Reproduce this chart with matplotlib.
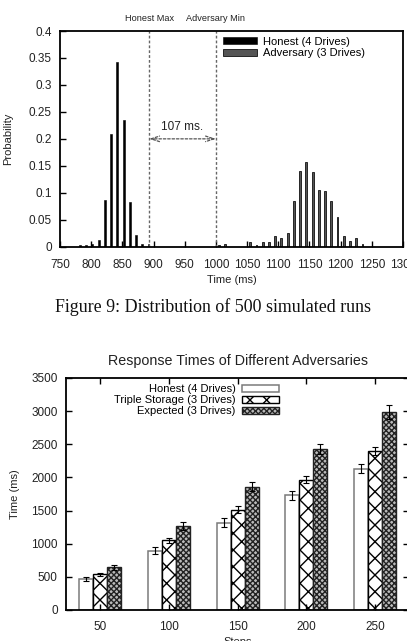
import numpy as np
import matplotlib
matplotlib.use("Agg")
import matplotlib.pyplot as plt

# --- top chart: distribution of 500 simulated runs ---
honest_x = [782, 792, 802, 812, 822, 832, 842, 852, 862, 872, 882, 892]
honest_p = [0.003, 0.003, 0.005, 0.013, 0.087, 0.209, 0.343, 0.235, 0.083, 0.021, 0.005, 0.005]
adv_x = [1005, 1015, 1055, 1065, 1075, 1085, 1095, 1105, 1115, 1125, 1135,
         1145, 1155, 1165, 1175, 1185, 1195, 1205, 1215, 1225, 1235]
adv_p = [0.003, 0.005, 0.009, 0.003, 0.009, 0.009, 0.019, 0.017, 0.025, 0.084, 0.141,
         0.157, 0.139, 0.105, 0.103, 0.085, 0.055, 0.020, 0.011, 0.017, 0.005]
honest_max = 893
adversary_min = 1000
x_ticks = [750, 800, 850, 900, 950, 1000, 1050, 1100, 1150, 1200, 1250, 1300]
p_ticks = [0, 0.05, 0.1, 0.15, 0.2, 0.25, 0.3, 0.35, 0.4]
p_labels = ["0", "0.05", "0.1", "0.15", "0.2", "0.25", "0.3", "0.35", "0.4"]

# --- bottom chart: response times ---
steps = ["50", "100", "150", "200", "250"]
honest_t = [465, 895, 1318, 1730, 2130]
honest_err = [35, 50, 65, 70, 70]
triple_t = [538, 1050, 1515, 1965, 2405]
triple_err = [25, 35, 55, 55, 60]
expected_t = [644, 1263, 1858, 2430, 2985]
expected_err = [40, 60, 70, 75, 105]

plt.rcParams["font.family"] = ["Liberation Sans", "DejaVu Sans"]
plt.rcParams["hatch.linewidth"] = 1.0
TXT = "#222222"

fig = plt.figure(figsize=(4.07, 6.41), dpi=100)

# ---------------- top ----------------
ax1 = fig.add_axes([60 / 407, 1 - 246.7 / 641, 343 / 407, 215.7 / 641])
ax1.bar(honest_x, honest_p, width=3.0, color="black", edgecolor="black",
        linewidth=0.4, label="Honest (4 Drives)")
ax1.bar(adv_x, adv_p, width=3.0, color="#555555", edgecolor="#111111",
        linewidth=0.6, label="Adversary (3 Drives)")
ax1.set_xlim(750, 1300)
ax1.set_ylim(0, 0.4)
ax1.set_xticks(x_ticks)
ax1.set_yticks(p_ticks)
ax1.set_yticklabels(p_labels)
ax1.tick_params(direction="in", length=4, width=1, labelsize=8.5, labelcolor=TXT,
                top=False, right=False)
ax1.tick_params(axis="x", pad=9)
ax1.tick_params(axis="y", pad=6)
for s in ax1.spines.values():
    s.set_linewidth(1.3)
ax1.set_xlabel("Time (ms)", fontsize=8, color=TXT, labelpad=3)
ax1.set_ylabel("Probability", fontsize=8, color=TXT, labelpad=11)

for xv in (honest_max, adversary_min):
    ax1.axvline(xv, color="#666666", lw=1, ls=(0, (2, 1.5)))
ax1.text(honest_max, 1.056, "Honest Max", transform=ax1.get_xaxis_transform(),
         ha="center", va="center", fontsize=6.6, color=TXT)
ax1.text(adversary_min, 1.056, "Adversary Min", transform=ax1.get_xaxis_transform(),
         ha="center", va="center", fontsize=6.6, color=TXT)
ax1.annotate("", xy=(honest_max, 0.2), xytext=(adversary_min, 0.2),
             arrowprops=dict(arrowstyle="<->,head_length=0.6,head_width=0.2",
                             color="#555555", lw=0.9, ls=(0, (2, 1.5)),
                             shrinkA=0, shrinkB=0))
ax1.text((honest_max + adversary_min) / 2, 0.222, "%d ms." % (adversary_min - honest_max),
         ha="center", va="center", fontsize=8.5, color=TXT)
ax1.legend(loc="upper left", bbox_to_anchor=(0.45, 1.015), frameon=False, fontsize=8,
           handlelength=3.0, handleheight=0.6, handletextpad=0.6, labelspacing=0.15,
           borderpad=0.3)

fig.text(213 / 407, 1 - 307 / 641, "Figure 9: Distribution of 500 simulated runs",
         ha="center", va="center", fontsize=12.9, family="Liberation Serif", color="#111111")

# ---------------- bottom ----------------
ax2 = fig.add_axes([66 / 407, 31 / 641, 343.4 / 407, 232 / 641])
pos = np.arange(len(steps))
w = 0.204
ekw = dict(ecolor="black", elinewidth=0.8, capsize=2.2, capthick=0.8)
ax2.bar(pos - w, honest_t, width=w, yerr=honest_err, color="white", edgecolor="#7a7a7a",
        linewidth=1.1, error_kw=ekw, label="Honest (4 Drives)")
ax2.bar(pos, triple_t, width=w, yerr=triple_err, color="white", edgecolor="black",
        hatch="xx", linewidth=1.0, error_kw=ekw, label="Triple Storage (3 Drives)")
ax2.bar(pos + w, expected_t, width=w, yerr=expected_err, color="#bbbbbb", edgecolor="#222222",
        hatch="xxxxxx", linewidth=1.0, error_kw=ekw, label="Expected (3 Drives)")
ax2.set_xlim(-0.5, 4.5)
ax2.set_ylim(0, 3500)
ax2.set_xticks(pos)
ax2.set_xticklabels(steps)
ax2.set_yticks(range(0, 3501, 500))
ax2.tick_params(direction="in", length=4, width=1, labelsize=8.5, labelcolor=TXT,
                top=True, right=True)
ax2.tick_params(axis="x", pad=8)
ax2.tick_params(axis="y", pad=6)
for s in ax2.spines.values():
    s.set_linewidth(1.3)
ax2.set_title("Response Times of Different Adversaries", fontsize=10.3, color=TXT, pad=9)
ax2.set_ylabel("Time (ms)", fontsize=8, color=TXT, labelpad=8)
ax2.set_xlabel("Steps", fontsize=8, color=TXT, labelpad=3)
ax2.legend(loc="upper right", bbox_to_anchor=(0.645, 1.012), frameon=False, fontsize=8,
           markerfirst=False, handlelength=3.3, handleheight=0.6, handletextpad=0.55,
           labelspacing=0.1, borderpad=0.3)

fig.savefig("out.png", dpi=100)
